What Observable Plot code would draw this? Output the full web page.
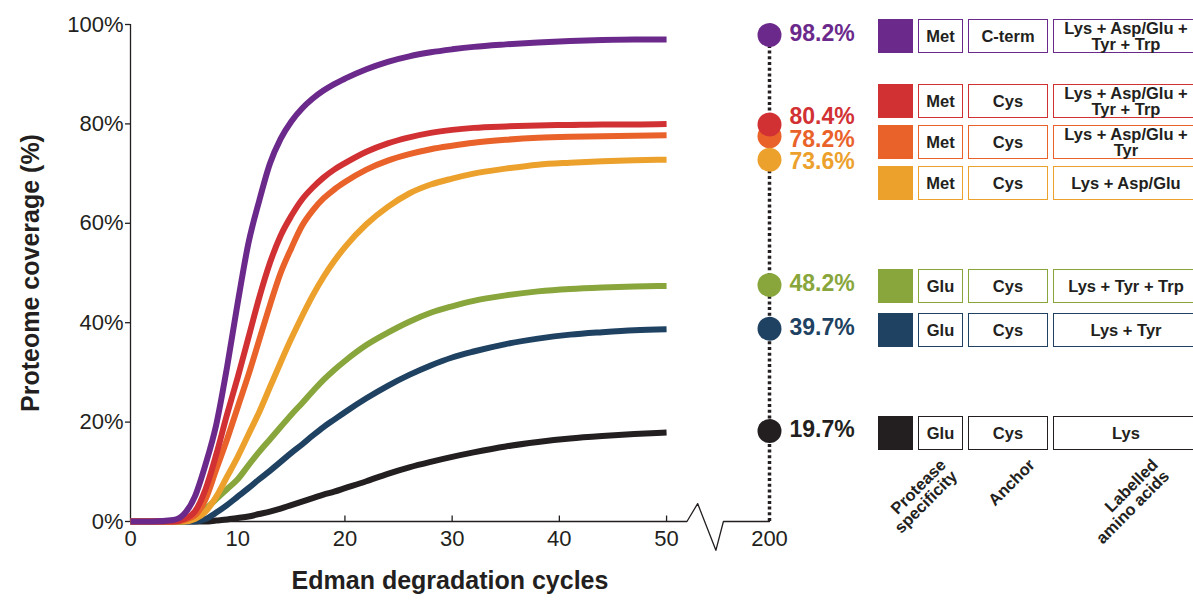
<!DOCTYPE html>
<html>
<head>
<meta charset="utf-8">
<script src="https://cdn.jsdelivr.net/npm/d3@7"></script>
<script src="https://cdn.jsdelivr.net/npm/@observablehq/plot@0.6"></script>
<style>
  body { margin: 0; background: #fff; font-family: "Liberation Sans", Arial, sans-serif; }
  #wrap { position: relative; width: 1193px; height: 603px; overflow: hidden; background: #fff; }
  #wrap svg { position: absolute; left: 0; top: 0; }
  .cell { position: absolute; box-sizing: border-box; border: 1.5px solid; background: #fff;
          display: flex; align-items: center; justify-content: center; text-align: center;
          font-weight: bold; font-size: 16.5px; line-height: 16px; color: #231f20; white-space: pre-line; }
  .sw { position: absolute; }
  .hdr { position: absolute; font-weight: bold; font-size: 16.5px; line-height: 16px; text-align: right;
         color: #231f20; transform-origin: 100% 0; transform: translateX(-100%) rotate(-45deg); white-space: pre; }
</style>
</head>
<body>
<div id="wrap"></div>
<script>
// ---------------- DATA ----------------
const cycles = [0, 2, 4, 5, 6, 7, 8, 9, 10, 11, 12, 13, 14, 15, 16, 17, 18, 19, 20, 22, 24, 26, 28, 30, 32, 35, 38, 41, 44, 47, 50];

const covMetCtermLysAspGluTyrTrp = [0, 0, 0.3, 1.5, 5, 11.5, 19.5, 31, 44, 56, 64.5, 72, 77, 80.5, 83.1, 85.1, 86.7, 88, 89.1, 91, 92.5, 93.6, 94.4, 95, 95.5, 96, 96.4, 96.7, 96.9, 97, 97];
const covMetCysLysAspGluTyrTrp   = [0, 0, 0, 0.5, 2, 6.5, 13.5, 21.5, 29, 37, 45, 52, 57.5, 61.5, 64.8, 67.2, 69.2, 70.8, 72.1, 74.4, 76.1, 77.3, 78.2, 78.8, 79.2, 79.5, 79.7, 79.8, 79.9, 79.9, 80];
const covMetCysLysAspGluTyr      = [0, 0, 0, 0.3, 1.2, 4.5, 10.5, 16.5, 23, 29.5, 36.5, 43.5, 50, 55, 59.5, 62.6, 65, 66.8, 68.3, 70.8, 72.6, 73.9, 74.9, 75.6, 76.2, 76.8, 77.2, 77.4, 77.5, 77.6, 77.7];
const covMetCysLysAspGlu         = [0, 0, 0, 0, 0.5, 2, 5, 9, 13, 17.5, 22, 27, 32, 36.8, 41.3, 45.5, 49.2, 52.4, 55.2, 59.8, 63.3, 66, 67.8, 69, 70, 71, 71.8, 72.2, 72.5, 72.7, 72.8];
const covGluCysLysTyrTrp         = [0, 0, 0, 0, 0.8, 2.5, 4.5, 6.5, 8.5, 11.3, 14, 16.5, 19, 21.5, 23.8, 26.2, 28.5, 30.5, 32.3, 35.5, 38, 40.2, 42, 43.3, 44.4, 45.5, 46.3, 46.8, 47.1, 47.3, 47.4];
const covGluCysLysTyr            = [0, 0, 0, 0, 0, 0.5, 1.8, 3.3, 5, 6.7, 8.5, 10.2, 12, 13.8, 15.5, 17.3, 19, 20.5, 22, 24.8, 27.3, 29.5, 31.4, 33, 34.2, 35.7, 36.8, 37.6, 38.1, 38.5, 38.7];
const covGluCysLys               = [0, 0, 0, 0, 0, 0, 0.2, 0.4, 0.7, 1, 1.5, 2, 2.6, 3.3, 4, 4.7, 5.4, 6, 6.7, 8.1, 9.6, 10.9, 12, 13, 13.9, 15.1, 16, 16.7, 17.2, 17.6, 17.9];

const seriesCoverage = [covMetCtermLysAspGluTyrTrp, covMetCysLysAspGluTyrTrp, covMetCysLysAspGluTyr, covMetCysLysAspGlu, covGluCysLysTyrTrp, covGluCysLysTyr, covGluCysLys];

// coverage after 200 cycles: printed values, and where the dots sit in the figure
const finalCycle = 200;
const finalLabels = ["98.2%", "80.4%", "78.2%", "73.6%", "48.2%", "39.7%", "19.7%"];
const finalDotCoverage = [97.9, 79.9, 77.5, 72.8, 47.6, 38.8, 18.2];

// legend table
const protease = ["Met", "Met", "Met", "Met", "Glu", "Glu", "Glu"];
const anchor = ["C-term", "Cys", "Cys", "Cys", "Cys", "Cys", "Cys"];
const labelled = ["Lys + Asp/Glu +\nTyr + Trp", "Lys + Asp/Glu +\nTyr + Trp", "Lys + Asp/Glu +\nTyr", "Lys + Asp/Glu", "Lys + Tyr + Trp", "Lys + Tyr", "Lys"];
const columnHeaders = ["Protease\nspecificity", "Anchor", "Labelled\namino acids"];

const xTickValues = [0, 10, 20, 30, 40, 50, 200];
const yTickValues = [0, 20, 40, 60, 80, 100];
const xTitle = "Edman degradation cycles";
const yTitle = "Proteome coverage (%)";

// ---------------- STYLE / LAYOUT ----------------
const colors = ["#6b2a8b", "#d23134", "#e9622a", "#eca12d", "#88a63c", "#1f4262", "#231f20"];
const ink = "#231f20";
const BREAK_POS = 59.6;            // where 200 sits on the broken axis
const brk = [51.9, 52.9, 54.6, 55.3]; // zig-zag glyph x positions
const bx = v => (v > 50 ? BREAK_POS : v);

const rows = [];
seriesCoverage.forEach((arr, s) => cycles.forEach((c, i) => rows.push({ s, cycle: c, cov: arr[i] })));
const ends = finalLabels.map((t, s) => ({ s, label: t, cov: finalDotCoverage[s] }));

// simple cluster dodge for labels / legend rows
function dodge(vals, gap) {
  let clusters = vals.map((v, i) => ({ idx: [i], center: v })).sort((a, b) => b.center - a.center);
  let changed = true;
  while (changed) {
    changed = false;
    for (let k = 0; k < clusters.length - 1; k++) {
      const a = clusters[k], b = clusters[k + 1];
      const aBottom = a.center - (a.idx.length - 1) / 2 * gap;
      const bTop = b.center + (b.idx.length - 1) / 2 * gap;
      if (aBottom - bTop < gap - 1e-9) {
        const idx = a.idx.concat(b.idx);
        const center = d3.mean(idx, i => vals[i]);
        clusters.splice(k, 2, { idx, center });
        changed = true; break;
      }
    }
  }
  const out = [];
  clusters.forEach(c => c.idx.forEach((i, j) => out[i] = c.center + ((c.idx.length - 1) / 2 - j) * gap));
  return out;
}
const labelPos = dodge(finalDotCoverage, 4.6);

const axisShape = [
  { x: 0, y: 0 }, { x: brk[0], y: 0 }, { x: brk[1], y: 3.6 }, { x: brk[2], y: -5.8 }, { x: brk[3], y: 0 }, { x: BREAK_POS, y: 0 }
];

const drawOrder = [6, 5, 4, 3, 2, 1, 0];
const dotOrder = [2, 3, 1, 0, 4, 5, 6];

const chart = Plot.plot({
  width: 1193, height: 603,
  marginLeft: 130, marginRight: 1193 - 769, marginTop: 24, marginBottom: 82,
  style: { fontFamily: "Liberation Sans, Arial, sans-serif", color: ink, background: "white", overflow: "visible" },
  x: { domain: [0, BREAK_POS], axis: null },
  y: { domain: [0, 100], axis: null },
  marks: [
    // y axis
    Plot.ruleX([0], { y1: 0, y2: 100, stroke: ink, strokeWidth: 1.3 }),
    Plot.axisY(yTickValues, { tickFormat: d => d + "%", tickSize: 5, tickPadding: 2, fontSize: 22, label: null, stroke: ink, strokeWidth: 1.3 }),
    // x axis with break
    Plot.line(axisShape, { x: "x", y: "y", stroke: ink, strokeWidth: 1.3, curve: "linear" }),
    Plot.ruleX(xTickValues.filter(d => d > 0 && d <= 50), { x: d => d, y1: 0, y2: 1.1, stroke: ink, strokeWidth: 1.3 }),
    Plot.text(xTickValues, { x: d => bx(d), y: 0, dy: 17, text: d => String(d), fontSize: 22, fill: ink }),
    // dotted line at 200
    Plot.ruleX([finalCycle], { x: d => bx(d), y1: 0, y2: finalDotCoverage[0], stroke: ink, strokeWidth: 3.5, strokeDasharray: "3,2.7" }),
    // curves
    Plot.line(rows.slice().sort((a, b) => drawOrder.indexOf(a.s) - drawOrder.indexOf(b.s)), {
      x: "cycle", y: "cov", z: "s", stroke: d => colors[d.s], strokeWidth: 6, curve: "monotone-x",
      strokeLinecap: "butt", strokeLinejoin: "round"
    }),
    // final dots
    Plot.dot(dotOrder.map(i => ends[i]), { x: () => bx(finalCycle), y: "cov", r: 12, fill: d => colors[d.s], stroke: "none" }),
    // final labels
    Plot.text(ends, { x: () => bx(finalCycle), y: d => labelPos[d.s], text: "label", fill: d => colors[d.s],
      dx: 20, dy: -1, textAnchor: "start", fontWeight: "bold", fontSize: 23 }),
    // axis titles
    Plot.text([xTitle], { frameAnchor: "bottom", dy: 67, fontWeight: "bold", fontSize: 25, fill: ink }),
    Plot.text([yTitle], { frameAnchor: "left", dx: -100, rotate: -90, textAnchor: "middle", fontWeight: "bold", fontSize: 25, fill: ink })
  ]
});

const wrap = document.getElementById("wrap");
wrap.appendChild(chart);

// ---------------- LEGEND TABLE ----------------
const yScale = chart.scale("y");
const rowGap = 41, rowH = 34;
const rowPx = dodge(finalDotCoverage.map(v => -yScale.apply(v)), rowGap).map(v => -v + 2);
const cols = [
  { left: 918, width: 45, get: i => protease[i] },
  { left: 968, width: 80, get: i => anchor[i] },
  { left: 1053, width: 146, get: i => labelled[i] }
];
finalLabels.forEach((_, i) => {
  const top = rowPx[i] - rowH / 2;
  const sw = document.createElement("div");
  sw.className = "sw";
  Object.assign(sw.style, { left: "878px", top: top + "px", width: "35px", height: rowH + "px", background: colors[i] });
  wrap.appendChild(sw);
  cols.forEach(c => {
    const d = document.createElement("div");
    d.className = "cell";
    d.textContent = c.get(i);
    Object.assign(d.style, { left: c.left + "px", top: top + "px", width: c.width + "px", height: rowH + "px", borderColor: colors[i] });
    wrap.appendChild(d);
  });
});
const headerAnchors = [937, 1026, 1149];
const headerTop = d3.max(rowPx) + rowH / 2 + 6;
columnHeaders.forEach((t, k) => {
  const h = document.createElement("div");
  h.className = "hdr";
  h.textContent = t;
  Object.assign(h.style, { left: headerAnchors[k] + "px", top: headerTop + "px" });
  wrap.appendChild(h);
});
</script>
</body>
</html>
